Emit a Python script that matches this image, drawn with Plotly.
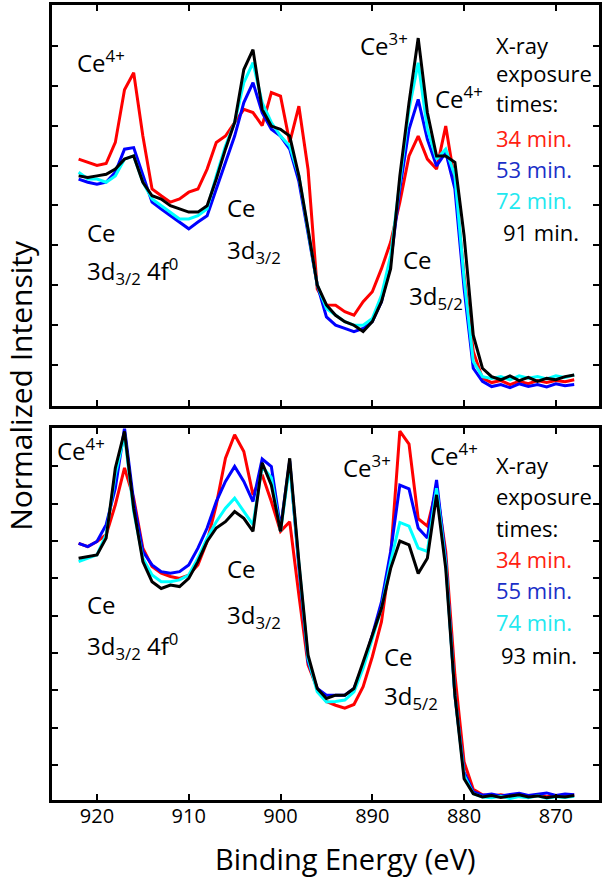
import plotly.graph_objects as go

# Binding energy grid (eV)
energy = [922, 921, 920, 919, 918, 917, 916, 915, 914, 913, 912, 911, 910, 909, 908,
          907, 906, 905, 904, 903, 902, 901, 900, 899, 898, 897, 896, 895, 894, 893,
          892, 891, 890, 889, 888, 887, 886, 885, 884, 883, 882, 881, 880, 879, 878,
          877, 876, 875, 874, 873, 872, 871, 870, 869, 868]

# ---- Top panel (34, 53, 72, 91 min) ----
top_34 = [6.16, 6.08, 6.0, 6.05, 6.58, 7.9, 8.33, 6.74, 5.41, 5.24, 5.08, 5.16, 5.33, 5.41, 5.91,
          6.58, 6.74, 7.08, 7.41, 7.33, 7.0, 7.83, 7.74, 6.58, 7.49, 5.9, 2.9, 2.5, 2.49, 2.33,
          2.24, 2.58, 2.83, 3.41, 4.08, 5.08, 6.24, 6.74, 6.16, 5.91, 6.99, 5.58, 3.24, 1.33, 0.66,
          0.55, 0.6, 0.5, 0.58, 0.52, 0.6, 0.55, 0.6, 0.57, 0.62]
top_53 = [5.66, 5.58, 5.53, 5.58, 5.83, 6.41, 6.45, 5.74, 5.08, 4.91, 4.74, 4.58, 4.41, 4.58, 4.74,
          5.41, 6.08, 6.74, 7.58, 8.08, 7.33, 6.91, 6.74, 6.41, 5.6, 4.3, 3.0, 2.2, 1.99, 1.91,
          1.83, 1.91, 2.08, 2.58, 3.58, 5.41, 6.91, 7.66, 6.66, 5.99, 6.33, 5.41, 2.91, 0.91, 0.58,
          0.45, 0.5, 0.42, 0.52, 0.45, 0.5, 0.44, 0.52, 0.47, 0.5]
top_72 = [5.83, 5.66, 5.66, 5.58, 5.74, 6.16, 6.24, 5.58, 5.16, 4.99, 4.83, 4.66, 4.66, 4.74, 4.91,
          5.74, 6.49, 7.08, 8.08, 8.58, 7.58, 7.08, 6.74, 6.49, 5.74, 4.4, 3.0, 2.41, 2.24, 2.08,
          1.99, 1.99, 2.16, 2.74, 3.74, 5.58, 7.41, 8.58, 6.91, 6.16, 6.41, 5.74, 3.16, 1.08, 0.7,
          0.65, 0.7, 0.62, 0.72, 0.66, 0.7, 0.64, 0.72, 0.68, 0.74]
top_91 = [5.74, 5.7, 5.74, 5.78, 5.91, 6.16, 6.24, 5.58, 5.24, 5.16, 4.99, 4.91, 4.83, 4.83, 4.99,
          5.66, 6.41, 7.08, 8.41, 8.91, 7.41, 6.99, 6.91, 6.74, 5.74, 4.4, 3.0, 2.5, 2.24, 2.08,
          1.99, 1.83, 2.08, 2.58, 3.41, 5.74, 7.58, 9.2, 7.33, 6.24, 6.24, 6.08, 4.24, 1.74, 0.91,
          0.7, 0.62, 0.72, 0.6, 0.68, 0.58, 0.66, 0.62, 0.7, 0.74]

# ---- Bottom panel (34, 55, 74, 93 min) ----
bot_34 = [6.94, 6.85, 6.99, 7.17, 7.97, 8.96, 8.15, 6.81, 6.32, 6.14, 6.05, 6.0, 6.09, 6.36, 6.99,
          7.97, 9.22, 9.85, 9.4, 8.24, 8.78, 8.06, 7.26, 7.52, 5.55, 3.68, 3.05, 2.7, 2.6, 2.52,
          2.62, 3.1, 3.9, 4.84, 6.6, 9.95, 9.6, 7.6, 7.4, 8.42, 6.72, 3.41, 1.08, 0.35, 0.2,
          0.16, 0.2, 0.15, 0.18, 0.14, 0.19, 0.15, 0.18, 0.16, 0.2]
bot_55 = [6.94, 6.85, 6.99, 7.44, 8.42, 10.03, 8.06, 6.72, 6.36, 6.18, 6.14, 6.18, 6.36, 6.81, 7.35,
          8.06, 8.6, 9.0, 8.6, 8.06, 9.2, 9.0, 7.35, 9.15, 6.3, 3.77, 3.05, 2.87, 2.87, 2.87,
          3.05, 3.67, 4.48, 5.37, 6.72, 8.5, 8.4, 7.35, 7.08, 8.64, 6.5, 2.87, 0.81, 0.28, 0.19,
          0.22, 0.17, 0.2, 0.24, 0.18, 0.21, 0.25, 0.18, 0.22, 0.2]
bot_74 = [6.45, 6.54, 6.63, 7.17, 8.78, 9.85, 7.79, 6.54, 6.09, 5.91, 5.91, 5.96, 6.09, 6.54, 7.08,
          7.52, 7.88, 8.15, 7.79, 7.44, 9.0, 8.7, 7.26, 9.05, 6.4, 3.85, 2.96, 2.69, 2.7, 2.74,
          2.96, 3.59, 4.39, 5.2, 6.45, 7.5, 7.4, 6.81, 6.72, 8.42, 6.4, 2.87, 0.72, 0.23, 0.14,
          0.12, 0.16, 0.1, 0.15, 0.12, 0.17, 0.11, 0.15, 0.13, 0.16]
bot_93 = [6.54, 6.58, 6.63, 7.08, 8.96, 9.94, 7.88, 6.45, 5.91, 5.73, 5.82, 5.78, 6.0, 6.45, 6.99,
          7.35, 7.52, 7.79, 7.61, 7.26, 9.1, 8.5, 7.26, 9.22, 6.45, 3.94, 3.05, 2.78, 2.87, 2.87,
          3.05, 3.76, 4.48, 5.2, 6.27, 7.0, 6.9, 6.13, 6.54, 8.24, 6.27, 2.87, 0.63, 0.23, 0.14,
          0.18, 0.13, 0.16, 0.2, 0.14, 0.17, 0.12, 0.16, 0.14, 0.18]

top_labels = ["34 min.", "53 min.", "72 min.", "91 min."]
bot_labels = ["34 min.", "55 min.", "74 min.", "93 min."]
x_ticks = [920, 910, 900, 890, 880, 870]

line_colors = ["#ff0000", "#0000ff", "#00ffff", "#000000"]
text_colors = ["#ff2010", "#1a2fc8", "#22e8f0", "#000000"]
FONT = "Open Sans"

fig = go.Figure()
for ys, c, name in zip([top_34, top_53, top_72, top_91], line_colors, top_labels):
    fig.add_trace(go.Scatter(x=energy, y=ys, mode="lines", line=dict(color=c, width=3),
                             name=name, xaxis="x", yaxis="y", showlegend=False))
for ys, c, name in zip([bot_34, bot_55, bot_74, bot_93], line_colors, bot_labels):
    fig.add_trace(go.Scatter(x=energy, y=ys, mode="lines", line=dict(color=c, width=3),
                             name=name, xaxis="x2", yaxis="y2", showlegend=False))

axis_common = dict(showline=True, linewidth=3, linecolor="black", mirror="ticks",
                   ticks="inside", ticklen=6, tickwidth=2, tickcolor="black",
                   showgrid=False, zeroline=False)

fig.update_layout(
    width=604, height=880,
    margin=dict(l=52, r=4, t=2, b=80),
    paper_bgcolor="white", plot_bgcolor="white",
    font=dict(family=FONT, color="black"),
    xaxis=dict(domain=[0, 1], anchor="y", range=[924.9, 865.3], tickvals=x_ticks,
               showticklabels=False, **axis_common),
    yaxis=dict(domain=[0.495, 1], anchor="x", range=[-0.05, 10.03],
               tickvals=[1, 2, 3, 4, 5, 6, 7, 8, 9], showticklabels=False, **axis_common),
    xaxis2=dict(domain=[0, 1], anchor="y2", range=[924.9, 865.3], tickvals=x_ticks,
                tickfont=dict(size=20, family=FONT, color="black"), ticklabelstandoff=-4,
                **axis_common),
    yaxis2=dict(domain=[0, 0.4674], anchor="x2", range=[0.06, 10.02],
                tickvals=[1, 2, 3, 4, 5, 6, 7, 8, 9], showticklabels=False, **axis_common),
)

ann = []
def add(text, x, y, ax="x", ay="y", size=24, color="black"):
    ann.append(dict(text=text, x=x, y=y, xref=ax, yref=ay, xanchor="left", yanchor="middle",
                    showarrow=False, font=dict(size=size, family=FONT, color=color)))

LG = 22  # legend-text size

# top panel labels
add("Ce<sup>4+</sup>", 922.4, 8.6)
add("Ce", 921.3, 4.33)
add("3d<sub>3/2</sub> 4f<sup>0</sup>", 921.3, 3.35)
add("Ce", 906.1, 4.95)
add("3d<sub>3/2</sub>", 906.1, 3.85)
add("Ce<sup>3+</sup>", 891.6, 9.05)
add("Ce<sup>4+</sup>", 883.4, 7.7)
add("Ce", 886.85, 3.65)
add("3d<sub>5/2</sub>", 886.2, 2.7)
add("X-ray", 876.7, 9.03, size=LG)
add("exposure", 876.7, 8.33, size=LG)
add("times:", 876.7, 7.58, size=LG)
for i, (lab, col) in enumerate(zip(top_labels, text_colors)):
    xx = 876.0 if i == 3 else 876.7
    add(lab, xx, [6.7, 5.9, 5.13, 4.33][i], size=LG, color=col)

# bottom panel labels
add("Ce<sup>4+</sup>", 924.6, 9.45, "x2", "y2")
add("Ce", 921.3, 5.3, "x2", "y2")
add("3d<sub>3/2</sub> 4f<sup>0</sup>", 921.3, 4.2, "x2", "y2")
add("Ce", 906.1, 6.26, "x2", "y2")
add("3d<sub>3/2</sub>", 906.1, 5.0, "x2", "y2")
add("Ce<sup>3+</sup>", 893.4, 9.0, "x2", "y2")
add("Ce<sup>4+</sup>", 883.9, 9.32, "x2", "y2")
add("Ce", 888.9, 3.9, "x2", "y2")
add("3d<sub>5/2</sub>", 888.9, 2.83, "x2", "y2")
add("X-ray", 876.7, 9.05, "x2", "y2", size=LG)
add("exposure", 876.7, 8.2, "x2", "y2", size=LG)
add("times:", 876.7, 7.34, "x2", "y2", size=LG)
for i, (lab, col) in enumerate(zip(bot_labels, text_colors)):
    xx = 876.2 if i == 3 else 876.7
    add(lab, xx, [6.53, 5.7, 4.84, 3.95][i], "x2", "y2", size=LG, color=col)

# axis titles
ann.append(dict(text="Normalized Intensity", x=-0.0566, y=0.521, xref="paper", yref="paper",
                textangle=-90, showarrow=False, xanchor="center", yanchor="middle",
                font=dict(size=30, family=FONT, color="black")))
ann.append(dict(text="Binding Energy (eV)", x=0.5365, y=-0.073, xref="paper", yref="paper",
                showarrow=False, xanchor="center", yanchor="middle",
                font=dict(size=29, family=FONT, color="black")))
fig.update_layout(annotations=ann)

fig.write_html("out.html", config={"displayModeBar": False},
               post_script="document.body.style.margin='0';document.body.style.overflow='hidden';")
